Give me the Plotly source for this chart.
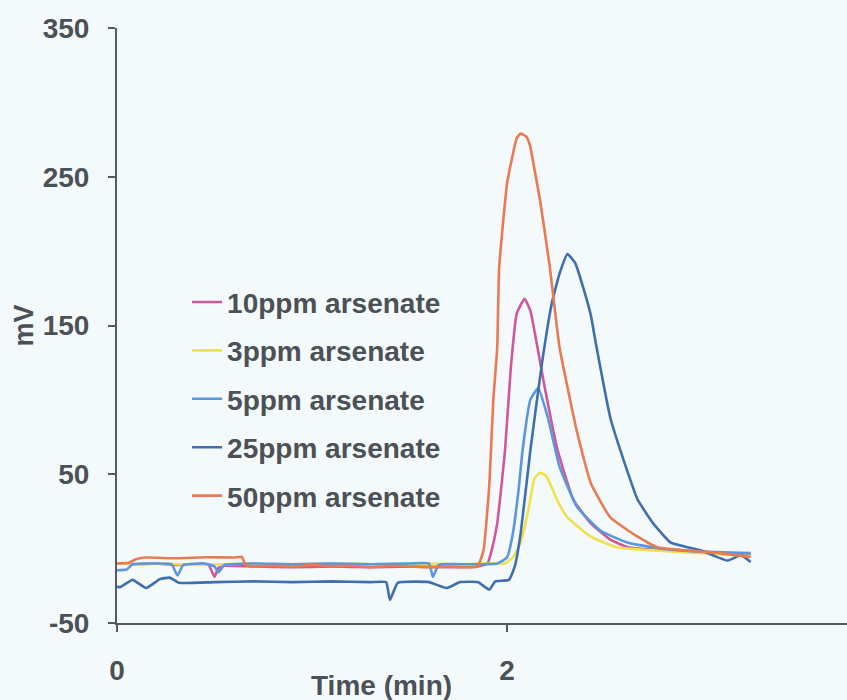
import plotly.graph_objects as go

# Chromatogram traces: retention time (min) and detector signal (mV)
t_10ppm = [0.00, 0.10, 0.20, 0.30, 0.40, 0.47, 0.50, 0.52, 0.55, 0.70, 0.90, 1.10, 1.30, 1.50,
           1.70, 1.85, 1.90, 1.92, 1.95, 1.99, 2.02, 2.05, 2.09, 2.12, 2.15, 2.19, 2.26, 2.34,
           2.43, 2.53, 2.62, 2.79, 2.99, 3.25]
v_10ppm = [-10, -10.5, -10, -11, -10.5, -11, -19, -13, -11.5, -12, -12.5, -12, -12.5, -12,
           -12.5, -12, -10, -2, 17, 66, 122, 158, 168, 160, 140, 111, 66, 33,
           17, 6, 1, -1, -2, -4]

t_3ppm = [0.00, 0.10, 0.25, 0.40, 0.55, 0.70, 0.85, 1.00, 1.15, 1.30, 1.45, 1.60, 1.75, 1.90,
          1.99, 2.03, 2.07, 2.10, 2.12, 2.14, 2.17, 2.20, 2.22, 2.26, 2.31, 2.43, 2.56, 2.73,
          2.99, 3.25]
v_3ppm = [-10, -10.5, -10, -11, -10.5, -10, -11, -10.5, -10, -10.5, -11, -10, -10.5, -10,
          -10, -6, 4, 20, 33, 47, 51, 49, 44, 32, 21, 8, 1, -1,
          -3, -5]

t_5ppm = [0.00, 0.05, 0.08, 0.20, 0.28, 0.31, 0.34, 0.45, 0.50, 0.52, 0.55, 0.70, 0.90, 1.10,
          1.30, 1.50, 1.60, 1.62, 1.65, 1.80, 1.95, 2.00, 2.03, 2.06, 2.08, 2.12, 2.16, 2.21,
          2.27, 2.36, 2.48, 2.62, 2.79, 2.99, 3.25]
v_5ppm = [-14.5, -14, -10.5, -10, -10.5, -18, -11, -10, -12, -16, -11, -10, -10.5, -10,
          -10.5, -10, -10, -19, -11, -10.5, -10, -6, 10, 40, 66, 100, 108, 88,
          55, 28, 12, 4, 0, -2, -3]

t_25ppm = [0.00, 0.015, 0.08, 0.15, 0.22, 0.27, 0.32, 0.50, 0.70, 0.90, 1.10, 1.30, 1.38, 1.40,
           1.44, 1.60, 1.69, 1.76, 1.85, 1.91, 1.94, 2.01, 2.04, 2.07, 2.12, 2.18, 2.23, 2.27,
           2.31, 2.35, 2.39, 2.43, 2.46, 2.53, 2.61, 2.67, 2.75, 2.84, 2.99, 3.13, 3.20, 3.25]
v_25ppm = [-25.5, -26, -21, -26.5, -20.5, -19.5, -23, -22.5, -22, -22.5, -22, -22.5, -22.5, -34.5,
           -23, -22.5, -26.5, -22.5, -22.5, -27.5, -22, -21, -12, 10, 66, 125, 165, 185,
           198, 192, 176, 157, 135, 88, 55, 33, 17, 4, -1, -8, -4.5, -9]

t_50ppm = [0.00, 0.06, 0.10, 0.15, 0.30, 0.45, 0.60, 0.64, 0.66, 0.70, 0.80, 0.90, 1.00, 1.10,
           1.20, 1.30, 1.40, 1.50, 1.60, 1.70, 1.80, 1.85, 1.88, 1.91, 1.93, 1.95, 1.96, 2.00,
           2.03, 2.05, 2.07, 2.10, 2.12, 2.13, 2.17, 2.22, 2.27, 2.36, 2.43, 2.53, 2.67, 2.77,
           2.90, 3.09, 3.25]
v_50ppm = [-10, -9.5, -7, -6, -6.5, -5.8, -6, -5.5, -11, -12, -11.5, -12, -11, -12,
           -11.5, -12.5, -11.5, -12, -12.5, -12, -12.5, -12, -1, 44, 100, 135, 189, 245,
           265, 276, 279, 277, 270, 263, 234, 189, 135, 78, 44, 21, 8, 1,
           -1, -3, -5.6]

series_names = ["10ppm arsenate", "3ppm arsenate", "5ppm arsenate", "25ppm arsenate", "50ppm arsenate"]
series_t = [t_10ppm, t_3ppm, t_5ppm, t_25ppm, t_50ppm]
series_v = [v_10ppm, v_3ppm, v_5ppm, v_25ppm, v_50ppm]
series_colors = ["#d2569a", "#efe24c", "#5b97de", "#3f6fae", "#ea7a50"]

x_ticks = [0, 2]
y_ticks = [-50, 50, 150, 250, 350]

BG = "#f4fafc"
AXIS = "#555a60"
TEXT = "#4c5157"
FONT = "Liberation Sans, Arial, sans-serif"
FS = 28

fig = go.Figure()
for i, (name, tt, vv, col) in enumerate(zip(series_names, series_t, series_v, series_colors)):
    fig.add_trace(go.Scatter(
        x=tt, y=vv, name=name, mode="lines",
        line=dict(color=col, width=2.6, shape="spline", smoothing=0.4),
        legendgroup=f"g{i}",
    ))

fig.update_layout(
    width=847, height=700,
    margin=dict(l=117, r=0, t=28, b=77),
    paper_bgcolor=BG, plot_bgcolor=BG,
    showlegend=True,
    legend=dict(
        x=0.096, y=0.581, xanchor="left", yanchor="top",
        bgcolor="rgba(0,0,0,0)", borderwidth=0,
        font=dict(family=FONT, size=FS, color=TEXT, weight="bold"),
        tracegroupgap=9, itemwidth=30,
    ),
    xaxis=dict(
        range=[0, 3.744], tickvals=x_ticks, ticktext=[str(v) for v in x_ticks],
        showgrid=False, zeroline=False,
        showline=True, linecolor=AXIS, linewidth=2,
        ticks="outside", ticklen=7, tickwidth=2, tickcolor=AXIS,
        ticklabelstandoff=14,
        tickfont=dict(family=FONT, size=FS, color=TEXT, weight="bold"),
    ),
    yaxis=dict(
        range=[-50, 350], tickvals=y_ticks, ticktext=[str(v) for v in y_ticks],
        showgrid=False, zeroline=False,
        showline=True, linecolor=AXIS, linewidth=2,
        ticks="outside", ticklen=7, tickwidth=2, tickcolor=AXIS,
        ticklabelstandoff=13,
        tickfont=dict(family=FONT, size=FS, color=TEXT, weight="bold"),
    ),
    annotations=[
        dict(text="Time (min)", xref="paper", yref="paper",
             x=(381 - 117) / 730, y=-(685 - 623) / 595, xanchor="center", yanchor="middle",
             showarrow=False, font=dict(family=FONT, size=FS, color=TEXT, weight="bold")),
        dict(text="mV", xref="paper", yref="paper",
             x=-(117 - 23) / 730, y=0.5, xanchor="center", yanchor="middle", textangle=-90,
             showarrow=False, font=dict(family=FONT, size=FS - 1, color=TEXT, weight="bold")),
    ],
)

fig.write_html("out.html")
